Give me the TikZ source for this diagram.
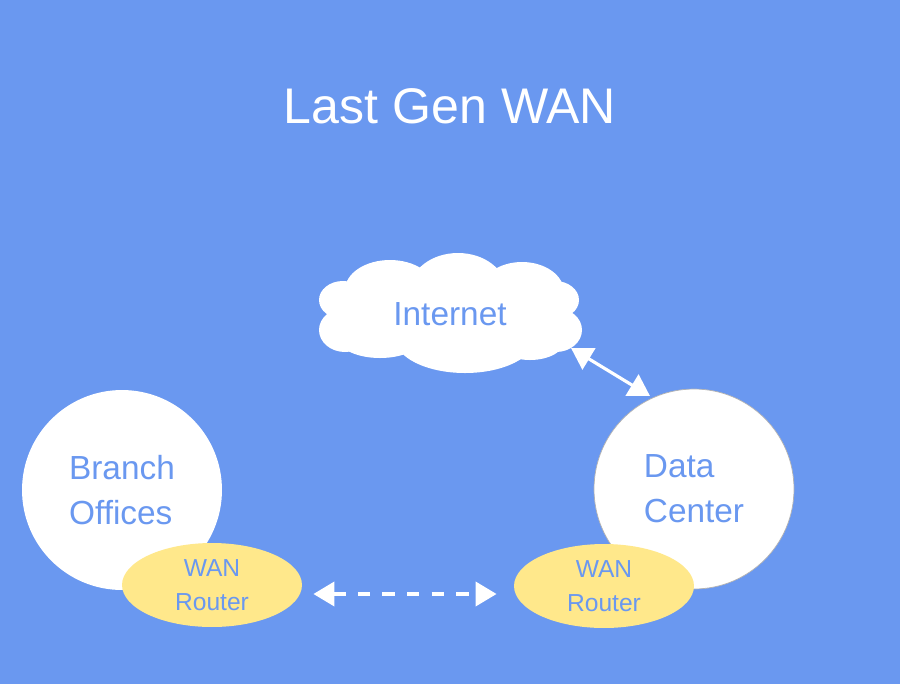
\documentclass[tikz,border=0pt]{standalone}
\usepackage{fontspec}
\setmainfont{Liberation Sans}
\usepackage{xcolor}
\usetikzlibrary{arrows.meta,shapes.geometric}
\definecolor{wanblue}{RGB}{106,152,240}
\definecolor{routeryellow}{RGB}{255,232,139}

\begin{document}
\begin{tikzpicture}[line cap=round,line join=round,x=0.02cm,y=-0.02cm,
        site/.style={circle,fill=white,minimum size=4cm,inner sep=0pt,align=left,
            text=wanblue,font=\fontsize{19}{25.6}\selectfont},
        router/.style={ellipse,fill=routeryellow,minimum width=3.6cm,minimum height=1.68cm,
            inner sep=0pt,align=center,text=wanblue,font=\fontsize{14}{19}\selectfont},
        link/.style={white,line width=1.8pt,{Triangle[length=12pt,width=14pt]}-{Triangle[length=12pt,width=14pt]}}]
                \fill [wanblue] (0,0) rectangle (900,684);
                \useasboundingbox (0,0) rectangle (900,684);
                % title
                \node (title) at (450,106) [text=white,font=\fontsize{28.5}{34}\selectfont] {Last Gen WAN};
                % cloud
                \fill [white] (343,300) ellipse (24 and 19);
                \fill [white] (345,330) ellipse (26 and 22);
                \fill [white] (555,300) ellipse (24 and 19);
                \fill [white] (556,330) ellipse (26 and 22);
                \fill [white] (390,290) ellipse (45 and 30);
                \fill [white] (458,290) ellipse (48 and 37);
                \fill [white] (522,292) ellipse (42 and 30);
                \fill [white] (465,338) ellipse (70 and 35);
                \fill [white] (380,338) ellipse (42 and 20);
                \fill [white] (530,340) ellipse (35 and 20);
                \fill [white] (450,318) ellipse (115 and 36);
                \node (internet) at (450,314) [text=wanblue,font=\fontsize{19}{23}\selectfont] {Internet};
                % sites
                \node (branch) at (122,490) [site] {Branch\\Offices};
                \node (dc) at (694,489) [site,draw=gray!60,line width=0.4pt] {Data\\Center};
                % routers
                \node (brouter) at (212,585) [router] {WAN\\Router};
                \node (drouter) at (604,586) [router] {WAN\\Router};
                % links
                \coordinate (netend) at (571,348);
                \coordinate (dcend) at (650,396);
                \draw [link] (netend) -- (dcend);
                \draw [link,line width=2.6pt,line cap=butt,dash pattern=on 7pt off 7pt,
                    {Triangle[length=12pt,width=13.5pt]}-{Triangle[length=12pt,width=13.5pt]}]
                    ([shift={(11,9)}]brouter.east) -- ([shift={(-17,8)}]drouter.west);
\end{tikzpicture}
\end{document}
